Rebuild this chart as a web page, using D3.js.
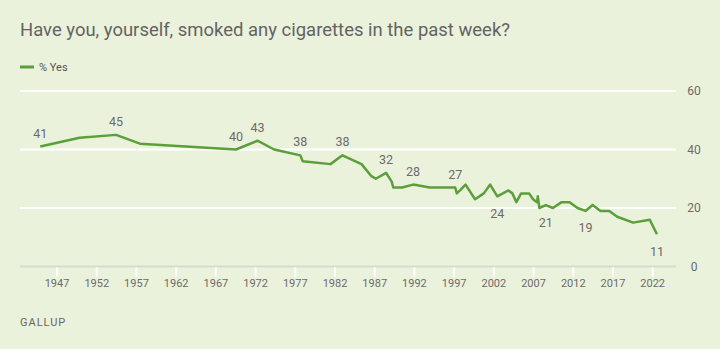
<!DOCTYPE html>
<html>
 <head>
   <meta charset="utf-8" />
   <title>Smoked any cigarettes in the past week</title>
   <script src="https://d3js.org/d3.v7.min.js"></script>
   <style>
     body { margin: 0; background: #ebf2dc; }
     text { font-family: Roboto, "Liberation Sans", sans-serif; }
   </style>
 </head>

 <body>
   <script>
     var width = 720, height = 349;

     // poll dates (decimal years) and % who smoked in the past week
     var years = [1944.95, 1949.9, 1954.5, 1957.5, 1969.6, 1972.3, 1974.4, 1977.7, 1978.0, 1981.5,
                  1983.0, 1985.4, 1986.6, 1987.2, 1988.5, 1989.2, 1989.4, 1990.5, 1991.9, 1994.0,
                  1996.0, 1997.2, 1997.4, 1997.8, 1998.5, 1999.7, 2000.8, 2001.6, 2002.5, 2003.2,
                  2003.9, 2004.4, 2004.9, 2005.5, 2006.5, 2007.0, 2007.5, 2007.6, 2007.8, 2008.6,
                  2009.5, 2010.6, 2011.6, 2012.6, 2013.6, 2014.5, 2015.5, 2016.6, 2017.6, 2019.6,
                  2021.7, 2022.6];
     var yes   = [41, 44, 45, 42, 40, 43, 40, 38, 36, 35,
                  38, 35, 31, 30, 32, 29, 27, 27, 28, 27,
                  27, 27, 25, 26, 28, 23, 25, 28, 24, 25,
                  26, 25, 22, 25, 25, 23, 22, 24, 20, 21,
                  20, 22, 22, 20, 19, 21, 19, 19, 17, 15,
                  16, 11];

     // which points carry a value label, and which of those sit below the line
     var labelIdx   = [0, 2, 4, 5, 7, 10, 14, 18, 21, 28, 39, 44, 51];
     var labelBelow = [28, 39, 44, 51];

     var xTicks = [1947, 1952, 1957, 1962, 1967, 1972, 1977, 1982, 1987, 1992, 1997, 2002, 2007, 2012, 2017, 2022];
     var yTicks = [0, 20, 40, 60];

     var green = "#5a9f3a", grey = "#6b6b6b";

     var svg = d3.select("body")
                 .append("svg")
                 .attr("width",  width)
                 .attr("height", height);

     svg.append("rect")
        .attr("width", width).attr("height", height)
        .attr("fill", "#ebf2dc");

     var x = d3.scaleLinear().domain([1942.4, 2025.0]).range([20, 676]);
     var y = d3.scaleLinear().domain([0, 60]).range([266.5, 91]);

     // title, squeezed a little to a narrower face
     svg.append("text")
        .attr("x", 20).attr("y", 36)
        .attr("font-size", 19)
        .attr("fill", "#636363")
        .attr("textLength", 490)
        .attr("lengthAdjust", "spacingAndGlyphs")
        .text("Have you, yourself, smoked any cigarettes in the past week?");

     // legend
     svg.append("line")
        .attr("x1", 20).attr("x2", 34)
        .attr("y1", 67).attr("y2", 67)
        .attr("stroke", green).attr("stroke-width", 3);
     svg.append("text")
        .attr("x", 39).attr("y", 71)
        .attr("font-size", 11)
        .attr("fill", "#555")
        .text("% Yes");

     // gridlines, zero line in grey
     svg.append("g").selectAll("line")
        .data(yTicks)
        .join("line")
          .attr("x1", x.range()[0]).attr("x2", x.range()[1])
          .attr("y1", function(d) { return y(d); })
          .attr("y2", function(d) { return y(d); })
          .attr("stroke", function(d) { return d === 0 ? "#d8dcd0" : "#ffffff"; })
          .attr("stroke-width", 2);

     // x axis: white ticks hanging under the baseline
     var xAxis = svg.append("g")
        .attr("transform", "translate(0," + (y(0) + 1) + ")")
        .call(d3.axisBottom(x).tickValues(xTicks).tickFormat(d3.format("d"))
                .tickSize(9).tickPadding(3));
     xAxis.select(".domain").remove();
     xAxis.selectAll(".tick line").attr("stroke", "#ffffff").attr("stroke-width", 2);
     xAxis.selectAll(".tick text")
          .attr("font-family", "Roboto, sans-serif")
          .attr("font-size", 11).attr("fill", grey);

     // y axis on the right
     var yAxis = svg.append("g")
        .attr("transform", "translate(" + x.range()[1] + ",0)")
        .call(d3.axisRight(y).tickValues(yTicks).tickSize(0).tickPadding(18));
     yAxis.select(".domain").remove();
     yAxis.selectAll(".tick text")
          .attr("text-anchor", "middle")
          .attr("font-family", "Roboto, sans-serif")
          .attr("font-size", 12).attr("fill", grey);

     // trend line
     var line = d3.line()
        .x(function(i) { return x(years[i]); })
        .y(function(i) { return y(yes[i]); });

     svg.append("path")
        .datum(d3.range(years.length))
        .attr("d", line)
        .attr("fill", "none")
        .attr("stroke", green)
        .attr("stroke-width", 2.5)
        .attr("stroke-linejoin", "round");

     // value labels
     svg.append("g").selectAll("text")
        .data(labelIdx)
        .join("text")
          .attr("x", function(i) { return x(years[i]); })
          .attr("y", function(i) {
            return labelBelow.indexOf(i) >= 0 ? y(yes[i]) + 21.5 : y(yes[i]) - 9;
          })
          .attr("text-anchor", "middle")
          .attr("font-size", 12.5)
          .attr("fill", grey)
          .text(function(i) { return yes[i]; });

     // source
     svg.append("text")
        .attr("x", 20).attr("y", 326)
        .attr("font-size", 11)
        .attr("letter-spacing", 1)
        .attr("fill", "#666")
        .text("GALLUP");
   </script>
 </body>
</html>
